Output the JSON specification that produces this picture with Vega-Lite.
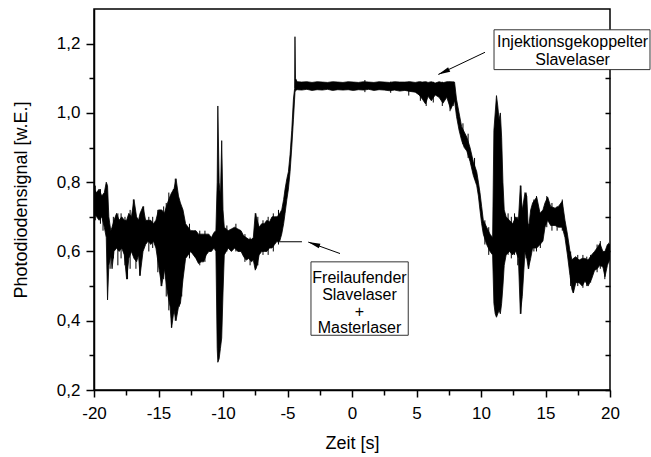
{
  "$schema": "https://vega.github.io/schema/vega-lite/v6.json",
  "width": 516,
  "height": 381,
  "autosize": {"type": "none"},
  "padding": {"left": 94, "top": 9, "right": 41, "bottom": 67},
  "background": "white",
  "config": {
    "font": "Liberation Sans",
    "view": {"stroke": "black", "strokeWidth": 1.5},
    "axis": {"grid": false}
  },
  "resolve": {"axis": {"x": "independent", "y": "independent"}},
  "datasets": {
    "sig": [
      {"t": -20.0, "lo": 0.71, "hi": 0.78},
      {"t": -19.8, "lo": 0.70, "hi": 0.77},
      {"t": -19.6, "lo": 0.69, "hi": 0.78},
      {"t": -19.4, "lo": 0.70, "hi": 0.76},
      {"t": -19.2, "lo": 0.67, "hi": 0.77},
      {"t": -19.05, "lo": 0.64, "hi": 0.80},
      {"t": -18.95, "lo": 0.46, "hi": 0.79},
      {"t": -18.85, "lo": 0.56, "hi": 0.70},
      {"t": -18.7, "lo": 0.59, "hi": 0.66},
      {"t": -18.6, "lo": 0.55, "hi": 0.67},
      {"t": -18.45, "lo": 0.60, "hi": 0.69},
      {"t": -18.25, "lo": 0.61, "hi": 0.71},
      {"t": -18.05, "lo": 0.60, "hi": 0.69},
      {"t": -17.85, "lo": 0.61, "hi": 0.70},
      {"t": -17.65, "lo": 0.59, "hi": 0.69},
      {"t": -17.47, "lo": 0.52, "hi": 0.69},
      {"t": -17.3, "lo": 0.58, "hi": 0.71},
      {"t": -17.1, "lo": 0.60, "hi": 0.70},
      {"t": -16.9, "lo": 0.58, "hi": 0.75},
      {"t": -16.7, "lo": 0.57, "hi": 0.70},
      {"t": -16.55, "lo": 0.59, "hi": 0.69},
      {"t": -16.43, "lo": 0.53, "hi": 0.71},
      {"t": -16.2, "lo": 0.60, "hi": 0.73},
      {"t": -16.0, "lo": 0.62, "hi": 0.69},
      {"t": -15.8, "lo": 0.63, "hi": 0.69},
      {"t": -15.6, "lo": 0.62, "hi": 0.69},
      {"t": -15.4, "lo": 0.63, "hi": 0.68},
      {"t": -15.2, "lo": 0.61, "hi": 0.69},
      {"t": -15.0, "lo": 0.56, "hi": 0.72},
      {"t": -14.75, "lo": 0.50, "hi": 0.72},
      {"t": -14.55, "lo": 0.55, "hi": 0.71},
      {"t": -14.3, "lo": 0.48, "hi": 0.74},
      {"t": -14.1, "lo": 0.44, "hi": 0.76},
      {"t": -13.98, "lo": 0.38, "hi": 0.77},
      {"t": -13.8, "lo": 0.43, "hi": 0.78},
      {"t": -13.64, "lo": 0.40, "hi": 0.81},
      {"t": -13.45, "lo": 0.44, "hi": 0.76},
      {"t": -13.3, "lo": 0.45, "hi": 0.74},
      {"t": -13.1, "lo": 0.52, "hi": 0.72},
      {"t": -12.9, "lo": 0.58, "hi": 0.68},
      {"t": -12.7, "lo": 0.59, "hi": 0.67},
      {"t": -12.5, "lo": 0.60, "hi": 0.66},
      {"t": -12.3, "lo": 0.59, "hi": 0.66},
      {"t": -12.1, "lo": 0.58, "hi": 0.66},
      {"t": -11.9, "lo": 0.565, "hi": 0.65},
      {"t": -11.7, "lo": 0.57, "hi": 0.65},
      {"t": -11.5, "lo": 0.57, "hi": 0.65},
      {"t": -11.3, "lo": 0.59, "hi": 0.65},
      {"t": -11.1, "lo": 0.60, "hi": 0.65},
      {"t": -10.9, "lo": 0.60, "hi": 0.64},
      {"t": -10.7, "lo": 0.61, "hi": 0.655},
      {"t": -10.55, "lo": 0.60, "hi": 0.66},
      {"t": -10.45, "lo": 0.32, "hi": 0.80},
      {"t": -10.4, "lo": 0.28, "hi": 1.02},
      {"t": -10.3, "lo": 0.29, "hi": 0.80},
      {"t": -10.2, "lo": 0.32, "hi": 0.76},
      {"t": -10.1, "lo": 0.35, "hi": 0.92},
      {"t": -10.0, "lo": 0.48, "hi": 0.72},
      {"t": -9.9, "lo": 0.59, "hi": 0.67},
      {"t": -9.6, "lo": 0.61, "hi": 0.66},
      {"t": -9.35, "lo": 0.60, "hi": 0.665},
      {"t": -9.1, "lo": 0.61, "hi": 0.67},
      {"t": -8.85, "lo": 0.60, "hi": 0.665},
      {"t": -8.6, "lo": 0.60, "hi": 0.66},
      {"t": -8.4, "lo": 0.585, "hi": 0.645},
      {"t": -8.2, "lo": 0.575, "hi": 0.64},
      {"t": -8.0, "lo": 0.58, "hi": 0.635},
      {"t": -7.8, "lo": 0.57, "hi": 0.635},
      {"t": -7.65, "lo": 0.575, "hi": 0.64},
      {"t": -7.5, "lo": 0.546, "hi": 0.71},
      {"t": -7.35, "lo": 0.56, "hi": 0.69},
      {"t": -7.2, "lo": 0.59, "hi": 0.67},
      {"t": -7.0, "lo": 0.60, "hi": 0.68},
      {"t": -6.8, "lo": 0.60, "hi": 0.68},
      {"t": -6.6, "lo": 0.60, "hi": 0.69},
      {"t": -6.4, "lo": 0.61, "hi": 0.685},
      {"t": -6.2, "lo": 0.61, "hi": 0.70},
      {"t": -6.0, "lo": 0.62, "hi": 0.70},
      {"t": -5.8, "lo": 0.63, "hi": 0.70},
      {"t": -5.6, "lo": 0.63, "hi": 0.71},
      {"t": -5.45, "lo": 0.65, "hi": 0.72},
      {"t": -5.3, "lo": 0.68, "hi": 0.75},
      {"t": -5.19, "lo": 0.71, "hi": 0.78},
      {"t": -5.05, "lo": 0.75, "hi": 0.81},
      {"t": -4.93, "lo": 0.78, "hi": 0.83},
      {"t": -4.8, "lo": 0.83, "hi": 0.88},
      {"t": -4.67, "lo": 0.90, "hi": 0.95},
      {"t": -4.54, "lo": 0.98, "hi": 1.04},
      {"t": -4.45, "lo": 1.04, "hi": 1.07},
      {"t": -4.42, "lo": 1.06, "hi": 1.22},
      {"t": -4.38, "lo": 1.065, "hi": 1.10},
      {"t": -4.25, "lo": 1.067, "hi": 1.09},
      {"t": -3.9, "lo": 1.066, "hi": 1.089},
      {"t": -3.5, "lo": 1.068, "hi": 1.090},
      {"t": -3.1, "lo": 1.065, "hi": 1.088},
      {"t": -2.7, "lo": 1.067, "hi": 1.090},
      {"t": -2.3, "lo": 1.066, "hi": 1.089},
      {"t": -1.9, "lo": 1.068, "hi": 1.088},
      {"t": -1.5, "lo": 1.065, "hi": 1.090},
      {"t": -1.1, "lo": 1.067, "hi": 1.089},
      {"t": -0.7, "lo": 1.066, "hi": 1.088},
      {"t": -0.3, "lo": 1.067, "hi": 1.090},
      {"t": 0.1, "lo": 1.065, "hi": 1.089},
      {"t": 0.5, "lo": 1.067, "hi": 1.088},
      {"t": 0.9, "lo": 1.066, "hi": 1.090},
      {"t": 1.3, "lo": 1.068, "hi": 1.089},
      {"t": 1.7, "lo": 1.065, "hi": 1.088},
      {"t": 2.1, "lo": 1.067, "hi": 1.090},
      {"t": 2.5, "lo": 1.066, "hi": 1.089},
      {"t": 2.9, "lo": 1.064, "hi": 1.088},
      {"t": 3.3, "lo": 1.066, "hi": 1.090},
      {"t": 3.7, "lo": 1.063, "hi": 1.089},
      {"t": 4.1, "lo": 1.065, "hi": 1.089},
      {"t": 4.5, "lo": 1.062, "hi": 1.090},
      {"t": 4.9, "lo": 1.060, "hi": 1.088},
      {"t": 5.2, "lo": 1.052, "hi": 1.090},
      {"t": 5.45, "lo": 1.040, "hi": 1.089},
      {"t": 5.7, "lo": 1.026, "hi": 1.090},
      {"t": 5.9, "lo": 1.048, "hi": 1.088},
      {"t": 6.15, "lo": 1.035, "hi": 1.090},
      {"t": 6.45, "lo": 1.052, "hi": 1.086},
      {"t": 6.75, "lo": 1.045, "hi": 1.090},
      {"t": 7.05, "lo": 1.028, "hi": 1.087},
      {"t": 7.35, "lo": 1.045, "hi": 1.090},
      {"t": 7.65, "lo": 1.010, "hi": 1.090},
      {"t": 7.95, "lo": 1.035, "hi": 1.089},
      {"t": 8.1, "lo": 0.99, "hi": 1.04},
      {"t": 8.3, "lo": 0.95, "hi": 1.00},
      {"t": 8.5, "lo": 0.92, "hi": 0.96},
      {"t": 8.7, "lo": 0.90, "hi": 0.945},
      {"t": 8.9, "lo": 0.89, "hi": 0.93},
      {"t": 9.15, "lo": 0.86, "hi": 0.90},
      {"t": 9.4, "lo": 0.82, "hi": 0.86},
      {"t": 9.67, "lo": 0.79, "hi": 0.83},
      {"t": 9.8, "lo": 0.76, "hi": 0.80},
      {"t": 9.92, "lo": 0.72, "hi": 0.77},
      {"t": 10.05, "lo": 0.68, "hi": 0.73},
      {"t": 10.18, "lo": 0.65, "hi": 0.69},
      {"t": 10.44, "lo": 0.62, "hi": 0.67},
      {"t": 10.7, "lo": 0.60, "hi": 0.65},
      {"t": 10.9, "lo": 0.59, "hi": 0.64},
      {"t": 11.0, "lo": 0.45, "hi": 0.95},
      {"t": 11.1, "lo": 0.42, "hi": 1.00},
      {"t": 11.2, "lo": 0.41, "hi": 1.05},
      {"t": 11.3, "lo": 0.42, "hi": 1.02},
      {"t": 11.4, "lo": 0.43, "hi": 0.98},
      {"t": 11.5, "lo": 0.42, "hi": 1.00},
      {"t": 11.6, "lo": 0.45, "hi": 0.93},
      {"t": 11.7, "lo": 0.50, "hi": 0.80},
      {"t": 11.8, "lo": 0.56, "hi": 0.72},
      {"t": 11.95, "lo": 0.59, "hi": 0.70},
      {"t": 12.2, "lo": 0.60, "hi": 0.69},
      {"t": 12.45, "lo": 0.59, "hi": 0.68},
      {"t": 12.7, "lo": 0.60, "hi": 0.70},
      {"t": 12.9, "lo": 0.58, "hi": 0.69},
      {"t": 13.05, "lo": 0.42, "hi": 0.79},
      {"t": 13.2, "lo": 0.47, "hi": 0.72},
      {"t": 13.41, "lo": 0.60, "hi": 0.77},
      {"t": 13.55, "lo": 0.58, "hi": 0.76},
      {"t": 13.67, "lo": 0.55, "hi": 0.66},
      {"t": 13.85, "lo": 0.58, "hi": 0.72},
      {"t": 14.0, "lo": 0.61, "hi": 0.74},
      {"t": 14.32, "lo": 0.61, "hi": 0.757},
      {"t": 14.58, "lo": 0.62, "hi": 0.71},
      {"t": 14.8, "lo": 0.63, "hi": 0.72},
      {"t": 14.96, "lo": 0.67, "hi": 0.74},
      {"t": 15.17, "lo": 0.69, "hi": 0.757},
      {"t": 15.4, "lo": 0.675, "hi": 0.73},
      {"t": 15.74, "lo": 0.675, "hi": 0.725},
      {"t": 16.0, "lo": 0.67, "hi": 0.73},
      {"t": 16.3, "lo": 0.67, "hi": 0.745},
      {"t": 16.51, "lo": 0.64, "hi": 0.69},
      {"t": 16.7, "lo": 0.59, "hi": 0.65},
      {"t": 16.9, "lo": 0.53, "hi": 0.60},
      {"t": 17.05, "lo": 0.49, "hi": 0.575},
      {"t": 17.16, "lo": 0.48, "hi": 0.58},
      {"t": 17.35, "lo": 0.51, "hi": 0.585},
      {"t": 17.6, "lo": 0.51, "hi": 0.575},
      {"t": 17.85, "lo": 0.50, "hi": 0.58},
      {"t": 18.06, "lo": 0.515, "hi": 0.58},
      {"t": 18.3, "lo": 0.50, "hi": 0.575},
      {"t": 18.57, "lo": 0.52, "hi": 0.59},
      {"t": 18.8, "lo": 0.545, "hi": 0.60},
      {"t": 19.0, "lo": 0.55, "hi": 0.61},
      {"t": 19.22, "lo": 0.56, "hi": 0.623},
      {"t": 19.45, "lo": 0.555, "hi": 0.60},
      {"t": 19.61, "lo": 0.527, "hi": 0.60},
      {"t": 19.8, "lo": 0.56, "hi": 0.62},
      {"t": 20.0, "lo": 0.58, "hi": 0.62}
    ],
    "spikes": [
      {"t": -19.9, "a": 0.69, "b": 0.79},
      {"t": -19.5, "a": 0.68, "b": 0.78},
      {"t": -19.3, "a": 0.66, "b": 0.76},
      {"t": -18.75, "a": 0.55, "b": 0.66},
      {"t": -18.5, "a": 0.58, "b": 0.70},
      {"t": -18.15, "a": 0.56, "b": 0.71},
      {"t": -17.9, "a": 0.58, "b": 0.71},
      {"t": -17.6, "a": 0.56, "b": 0.70},
      {"t": -17.4, "a": 0.52, "b": 0.62},
      {"t": -17.2, "a": 0.55, "b": 0.72},
      {"t": -16.95, "a": 0.62, "b": 0.75},
      {"t": -16.75, "a": 0.55, "b": 0.70},
      {"t": -16.45, "a": 0.53, "b": 0.64},
      {"t": -16.15, "a": 0.63, "b": 0.73},
      {"t": -15.75, "a": 0.60, "b": 0.70},
      {"t": -15.45, "a": 0.61, "b": 0.70},
      {"t": -15.05, "a": 0.54, "b": 0.72},
      {"t": -14.8, "a": 0.50, "b": 0.70},
      {"t": -14.6, "a": 0.52, "b": 0.73},
      {"t": -14.4, "a": 0.47, "b": 0.74},
      {"t": -14.2, "a": 0.43, "b": 0.77},
      {"t": -14.0, "a": 0.38, "b": 0.75},
      {"t": -13.85, "a": 0.42, "b": 0.78},
      {"t": -13.7, "a": 0.40, "b": 0.81},
      {"t": -13.55, "a": 0.43, "b": 0.77},
      {"t": -13.4, "a": 0.44, "b": 0.74},
      {"t": -13.2, "a": 0.47, "b": 0.72},
      {"t": -12.6, "a": 0.58, "b": 0.68},
      {"t": -11.8, "a": 0.56, "b": 0.66},
      {"t": -11.4, "a": 0.57, "b": 0.66},
      {"t": -9.7, "a": 0.60, "b": 0.675},
      {"t": -9.0, "a": 0.60, "b": 0.68},
      {"t": -8.3, "a": 0.57, "b": 0.65},
      {"t": -7.9, "a": 0.56, "b": 0.64},
      {"t": -7.45, "a": 0.55, "b": 0.71},
      {"t": -7.3, "a": 0.56, "b": 0.70},
      {"t": -6.9, "a": 0.59, "b": 0.69},
      {"t": -6.5, "a": 0.59, "b": 0.70},
      {"t": -6.1, "a": 0.60, "b": 0.71},
      {"t": -5.7, "a": 0.62, "b": 0.72},
      {"t": 1.0, "a": 1.06, "b": 1.095},
      {"t": 3.0, "a": 1.058, "b": 1.09},
      {"t": 4.4, "a": 1.05, "b": 1.09},
      {"t": 5.3, "a": 1.035, "b": 1.09},
      {"t": 5.75, "a": 1.02, "b": 1.09},
      {"t": 6.3, "a": 1.03, "b": 1.09},
      {"t": 7.0, "a": 1.02, "b": 1.09},
      {"t": 7.6, "a": 1.005, "b": 1.09},
      {"t": 7.85, "a": 1.02, "b": 1.09},
      {"t": 8.6, "a": 0.91, "b": 0.97},
      {"t": 9.0, "a": 0.87, "b": 0.94},
      {"t": 9.5, "a": 0.81, "b": 0.87},
      {"t": 10.3, "a": 0.62, "b": 0.69},
      {"t": 10.6, "a": 0.59, "b": 0.67},
      {"t": 12.1, "a": 0.59, "b": 0.71},
      {"t": 12.35, "a": 0.58, "b": 0.70},
      {"t": 12.6, "a": 0.59, "b": 0.71},
      {"t": 12.85, "a": 0.56, "b": 0.70},
      {"t": 13.1, "a": 0.42, "b": 0.79},
      {"t": 13.5, "a": 0.58, "b": 0.77},
      {"t": 13.7, "a": 0.55, "b": 0.68},
      {"t": 14.1, "a": 0.60, "b": 0.75},
      {"t": 14.3, "a": 0.60, "b": 0.76},
      {"t": 14.6, "a": 0.61, "b": 0.71},
      {"t": 15.1, "a": 0.67, "b": 0.76},
      {"t": 15.5, "a": 0.66, "b": 0.74},
      {"t": 15.9, "a": 0.66, "b": 0.73},
      {"t": 16.3, "a": 0.66, "b": 0.75},
      {"t": 16.95, "a": 0.50, "b": 0.60},
      {"t": 17.15, "a": 0.48, "b": 0.58},
      {"t": 17.5, "a": 0.50, "b": 0.59},
      {"t": 17.9, "a": 0.495, "b": 0.59},
      {"t": 18.2, "a": 0.50, "b": 0.585},
      {"t": 18.5, "a": 0.51, "b": 0.59},
      {"t": 19.0, "a": 0.54, "b": 0.62},
      {"t": 19.25, "a": 0.55, "b": 0.63},
      {"t": 19.6, "a": 0.52, "b": 0.60},
      {"t": 19.9, "a": 0.57, "b": 0.625}
    ],
    "boxes": [
      {"x1": 11.01, "x2": 23.1, "y1": 1.125, "y2": 1.24},
      {"x1": -3.18, "x2": 4.36, "y1": 0.358, "y2": 0.57}
    ],
    "labels": [
      {"t": 17.1, "v": 1.204, "label": "Injektionsgekoppelter"},
      {"t": 17.1, "v": 1.152, "label": "Slavelaser"},
      {"t": 0.58, "v": 0.522, "label": "Freilaufender"},
      {"t": 0.58, "v": 0.474, "label": "Slavelaser"},
      {"t": 0.58, "v": 0.425, "label": "+"},
      {"t": 0.58, "v": 0.378, "label": "Masterlaser"}
    ],
    "shafts": [
      {"t1": 10.31, "v1": 1.175, "t2": 6.69, "v2": 1.111},
      {"t1": -0.93, "v1": 0.594, "t2": -3.39, "v2": 0.627}
    ],
    "leader": [
      {"t1": -5.81, "t2": -3.88, "v": 0.628}
    ]
  },
  "layer": [
    {
      "data": {"name": "sig"},
      "mark": {"type": "area", "color": "black", "stroke": "black", "strokeWidth": 0.8, "clip": true},
      "encoding": {
        "x": {
          "field": "t", "type": "quantitative",
          "scale": {"domain": [-20, 20], "nice": false, "zero": false},
          "axis": {
            "orient": "bottom",
            "title": "Zeit [s]",
            "values": [-20, -15, -10, -5, 0, 5, 10, 15, 20],
            "labelExpr": "toString(datum.value)",
            "tickSize": 7,
            "tickColor": "black", "tickWidth": 1.5,
            "domainColor": "black", "domainWidth": 1.5,
            "labelFontSize": 17, "labelColor": "black", "labelPadding": 8,
            "labelFlush": false, "labelOverlap": false,
            "titleFontSize": 18, "titleFontWeight": "normal", "titleColor": "black", "titlePadding": 13
          }
        },
        "y": {
          "field": "lo", "type": "quantitative",
          "scale": {"domain": [0.2, 1.3], "nice": false, "zero": false},
          "axis": {
            "orient": "left",
            "title": "Photodiodensignal [w.E.]",
            "values": [0.2, 0.4, 0.6, 0.8, 1.0, 1.2],
            "labelExpr": "replace(format(datum.value, '.1f'), '.', ',')",
            "tickSize": 8,
            "tickColor": "black", "tickWidth": 1.5,
            "domainColor": "black", "domainWidth": 1.5,
            "labelFontSize": 17, "labelColor": "black", "labelPadding": 6,
            "labelFlush": false, "labelOverlap": false,
            "titleFontSize": 18, "titleFontWeight": "normal", "titleColor": "black", "titlePadding": 26
          }
        },
        "y2": {"field": "hi"}
      }
    },
    {
      "data": {"name": "spikes"},
      "mark": {"type": "rule", "color": "black", "strokeWidth": 1, "clip": true},
      "encoding": {
        "x": {"field": "t", "type": "quantitative", "axis": null},
        "y": {"field": "a", "type": "quantitative", "axis": null},
        "y2": {"field": "b"}
      }
    },
    {
      "data": {"name": "leader"},
      "mark": {"type": "rule", "color": "black", "strokeWidth": 1},
      "encoding": {
        "x": {
          "field": "t1", "type": "quantitative",
          "scale": {"domain": [-20, 20], "nice": false, "zero": false},
          "axis": {
            "orient": "bottom", "title": null, "labels": false, "domain": false,
            "values": [-17.5, -12.5, -7.5, -2.5, 2.5, 7.5, 12.5, 17.5],
            "tickSize": 5, "tickColor": "black", "tickWidth": 1.5
          }
        },
        "x2": {"field": "t2"},
        "y": {
          "field": "v", "type": "quantitative",
          "scale": {"domain": [0.2, 1.3], "nice": false, "zero": false},
          "axis": {
            "orient": "left", "title": null, "labels": false, "domain": false,
            "values": [0.3, 0.5, 0.7, 0.9, 1.1],
            "tickSize": 5, "tickColor": "black", "tickWidth": 1.5
          }
        }
      }
    },
    {
      "data": {"name": "shafts"},
      "mark": {"type": "rule", "color": "black", "strokeWidth": 1, "clip": false},
      "encoding": {
        "x": {"field": "t1", "type": "quantitative", "axis": null},
        "x2": {"field": "t2"},
        "y": {
          "field": "v1", "type": "quantitative",
          "axis": {
            "orient": "right", "title": null, "labels": false, "domain": false,
            "offset": -5,
            "values": [0.2, 0.3, 0.4, 0.5, 0.6, 0.7, 0.8, 0.9, 1.0, 1.1, 1.2],
            "tickSize": 5, "tickColor": "black", "tickWidth": 1.5
          }
        },
        "y2": {"field": "v2"}
      }
    },
    {
      "data": {"values": [{"t": 6.69, "v": 1.111}]},
      "mark": {"type": "point", "shape": "M0,0L0.5,2.4L-0.5,2.4Z", "filled": true, "color": "black", "opacity": 1, "size": 100, "angle": 245, "clip": false},
      "encoding": {
        "x": {"field": "t", "type": "quantitative", "axis": null},
        "y": {"field": "v", "type": "quantitative", "axis": null}
      }
    },
    {
      "data": {"values": [{"t": -3.39, "v": 0.627}]},
      "mark": {"type": "point", "shape": "M0,0L0.5,2.4L-0.5,2.4Z", "filled": true, "color": "black", "opacity": 1, "size": 100, "angle": 289, "clip": false},
      "encoding": {
        "x": {"field": "t", "type": "quantitative", "axis": null},
        "y": {"field": "v", "type": "quantitative", "axis": null}
      }
    },
    {
      "data": {"name": "boxes"},
      "mark": {"type": "rect", "fill": "white", "stroke": "#333333", "strokeWidth": 1, "clip": false},
      "encoding": {
        "x": {"field": "x1", "type": "quantitative", "axis": null},
        "x2": {"field": "x2"},
        "y": {"field": "y1", "type": "quantitative", "axis": null},
        "y2": {"field": "y2"}
      }
    },
    {
      "data": {"name": "labels"},
      "mark": {"type": "text", "fontSize": 16, "align": "center", "baseline": "middle", "color": "black", "clip": false},
      "encoding": {
        "x": {"field": "t", "type": "quantitative", "axis": null},
        "y": {"field": "v", "type": "quantitative", "axis": null},
        "text": {"field": "label"}
      }
    }
  ]
}
